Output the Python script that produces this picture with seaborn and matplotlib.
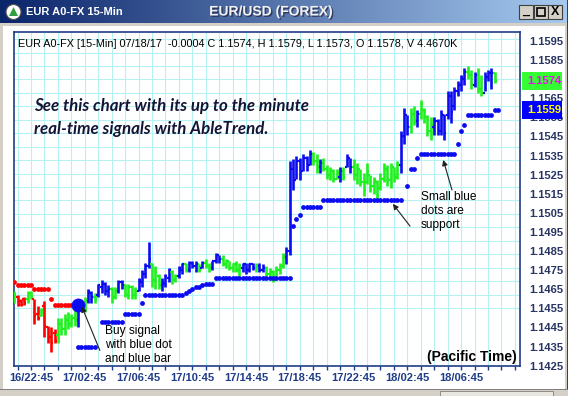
import numpy as np
import pandas as pd
import matplotlib
matplotlib.use("Agg")
import matplotlib.pyplot as plt
import matplotlib.transforms as mtrans
import matplotlib.patheffects as pe
from matplotlib.patches import Rectangle, Circle, Polygon
from matplotlib.colors import LinearSegmentedColormap
import seaborn as sns

# ---------------- data (EUR/USD 15-min bars) ----------------
bar_colors = list(
    "GRRRGGRRGR" "RRRGGGGGGB" "GGBBGBBBBG" "GBBGGGGBBB" "BGGGBBBGGB"
    "BGBBBGBGGB" "BBGGGGGGBB" "BBGBBGGGGG" "GBBBBBBBBG" "GBGGGGGBGB"
    "BGGGGGGGGG" "GGGGGBBBGG" "BGGGGBBBBB" "BBBBBGGBGG" "BBBG")
highs = [1.1464, 1.1462, 1.1460, 1.1461, 1.1464, 1.1464, 1.1460, 1.1456, 1.1455, 1.1459,
         1.1446, 1.1445, 1.1444, 1.1450, 1.1450, 1.1452, 1.1453, 1.1452, 1.1454, 1.1458,
         1.1459, 1.1461, 1.1465, 1.1464, 1.1463, 1.1468, 1.1470, 1.1469, 1.1467, 1.1466,
         1.1466, 1.1470, 1.1470, 1.1468, 1.1468, 1.1467, 1.1466, 1.1471, 1.1475, 1.1479,
         1.1490, 1.1479, 1.1477, 1.1473, 1.1471, 1.1473, 1.1476, 1.1475, 1.1473, 1.1477,
         1.1479, 1.1479, 1.1480, 1.1480, 1.1480, 1.1478, 1.1480, 1.1481, 1.1479, 1.1480,
         1.1484, 1.1483, 1.1483, 1.1481, 1.1480, 1.1479, 1.1480, 1.1479, 1.1479, 1.1479,
         1.1479, 1.1479, 1.1479, 1.1479, 1.1478, 1.1477, 1.1476, 1.1475, 1.1477, 1.1479,
         1.1484, 1.1487, 1.1532, 1.1533, 1.1535, 1.1534, 1.1536, 1.1535, 1.1538, 1.1537,
         1.1536, 1.1533, 1.1534, 1.1530, 1.1529, 1.1528, 1.1528, 1.1529, 1.1529, 1.1536,
         1.1534, 1.1533, 1.1531, 1.1528, 1.1526, 1.1531, 1.1525, 1.1524, 1.1522, 1.1526,
         1.1531, 1.1530, 1.1531, 1.1529, 1.1532, 1.1548, 1.1560, 1.1556, 1.1560, 1.1561,
         1.1559, 1.1564, 1.1560, 1.1556, 1.1555, 1.1555, 1.1554, 1.1559, 1.1557, 1.1569,
         1.1569, 1.1571, 1.1574, 1.1577, 1.1581, 1.1582, 1.1580, 1.1579, 1.1581, 1.1577,
         1.1579, 1.1580, 1.1581, 1.1579]
lows = [1.1458, 1.1456, 1.1456, 1.1457, 1.1458, 1.1460, 1.1447, 1.1449, 1.1451, 1.1440,
        1.1437, 1.1432, 1.1437, 1.1437, 1.1441, 1.1441, 1.1444, 1.1445, 1.1446, 1.1445,
        1.1454, 1.1453, 1.1458, 1.1458, 1.1458, 1.1461, 1.1463, 1.1462, 1.1461, 1.1458,
        1.1460, 1.1463, 1.1465, 1.1461, 1.1460, 1.1460, 1.1460, 1.1464, 1.1466, 1.1471,
        1.1476, 1.1466, 1.1465, 1.1465, 1.1464, 1.1466, 1.1469, 1.1468, 1.1469, 1.1471,
        1.1473, 1.1474, 1.1474, 1.1476, 1.1474, 1.1474, 1.1476, 1.1476, 1.1474, 1.1475,
        1.1479, 1.1479, 1.1477, 1.1476, 1.1475, 1.1474, 1.1474, 1.1472, 1.1474, 1.1473,
        1.1474, 1.1475, 1.1474, 1.1474, 1.1474, 1.1472, 1.1471, 1.1469, 1.1470, 1.1473,
        1.1476, 1.1478, 1.1483, 1.1517, 1.1523, 1.1522, 1.1527, 1.1527, 1.1530, 1.1530,
        1.1526, 1.1526, 1.1527, 1.1523, 1.1522, 1.1521, 1.1523, 1.1521, 1.1522, 1.1529,
        1.1526, 1.1522, 1.1520, 1.1519, 1.1514, 1.1520, 1.1516, 1.1515, 1.1511, 1.1517,
        1.1521, 1.1519, 1.1518, 1.1521, 1.1523, 1.1526, 1.1541, 1.1546, 1.1547, 1.1551,
        1.1550, 1.1554, 1.1552, 1.1545, 1.1543, 1.1546, 1.1546, 1.1546, 1.1543, 1.1554,
        1.1552, 1.1559, 1.1566, 1.1569, 1.1572, 1.1575, 1.1570, 1.1571, 1.1568, 1.1566,
        1.1569, 1.1574, 1.1570, 1.1573]
opens = [1.1460, 1.1461, 1.1459, 1.1460, 1.1460, 1.1463, 1.1460, 1.1452, 1.1451, 1.1456,
         1.1445, 1.1440, 1.1442, 1.1441, 1.1447, 1.1444, 1.1449, 1.1447, 1.1450, 1.1449,
         1.1457, 1.1455, 1.1459, 1.1463, 1.1461, 1.1462, 1.1466, 1.1468, 1.1464, 1.1465,
         1.1461, 1.1464, 1.1469, 1.1467, 1.1462, 1.1466, 1.1462, 1.1464, 1.1469, 1.1473,
         1.1477, 1.1478, 1.1470, 1.1472, 1.1467, 1.1468, 1.1471, 1.1474, 1.1470, 1.1472,
         1.1475, 1.1478, 1.1475, 1.1479, 1.1477, 1.1478, 1.1476, 1.1479, 1.1477, 1.1476,
         1.1480, 1.1483, 1.1481, 1.1478, 1.1480, 1.1476, 1.1478, 1.1475, 1.1476, 1.1478,
         1.1475, 1.1478, 1.1476, 1.1477, 1.1475, 1.1476, 1.1473, 1.1474, 1.1470, 1.1475,
         1.1477, 1.1482, 1.1485, 1.1528, 1.1522, 1.1532, 1.1527, 1.1534, 1.1530, 1.1536,
         1.1532, 1.1529, 1.1531, 1.1528, 1.1525, 1.1527, 1.1523, 1.1524, 1.1527, 1.1529,
         1.1534, 1.1529, 1.1525, 1.1528, 1.1521, 1.1521, 1.1525, 1.1519, 1.1521, 1.1518,
         1.1523, 1.1528, 1.1522, 1.1529, 1.1524, 1.1530, 1.1545, 1.1556, 1.1550, 1.1557,
         1.1553, 1.1557, 1.1559, 1.1555, 1.1548, 1.1550, 1.1553, 1.1548, 1.1556, 1.1556,
         1.1566, 1.1561, 1.1569, 1.1572, 1.1575, 1.1579, 1.1577, 1.1572, 1.1577, 1.1570,
         1.1568, 1.1576, 1.1578, 1.1578]
closes = [1.1462, 1.1457, 1.1457, 1.1458, 1.1463, 1.1461, 1.1451, 1.1450, 1.1454, 1.1446,
          1.1440, 1.1437, 1.1438, 1.1447, 1.1444, 1.1449, 1.1447, 1.1450, 1.1449, 1.1457,
          1.1455, 1.1459, 1.1464, 1.1461, 1.1460, 1.1467, 1.1468, 1.1464, 1.1465, 1.1461,
          1.1464, 1.1469, 1.1467, 1.1462, 1.1466, 1.1462, 1.1464, 1.1470, 1.1473, 1.1477,
          1.1481, 1.1470, 1.1474, 1.1467, 1.1469, 1.1472, 1.1475, 1.1470, 1.1472, 1.1476,
          1.1478, 1.1475, 1.1479, 1.1477, 1.1478, 1.1475, 1.1479, 1.1477, 1.1476, 1.1480,
          1.1483, 1.1481, 1.1478, 1.1480, 1.1476, 1.1478, 1.1475, 1.1477, 1.1478, 1.1475,
          1.1478, 1.1476, 1.1477, 1.1475, 1.1476, 1.1473, 1.1474, 1.1470, 1.1475, 1.1477,
          1.1482, 1.1485, 1.1528, 1.1522, 1.1532, 1.1527, 1.1534, 1.1530, 1.1536, 1.1532,
          1.1529, 1.1531, 1.1528, 1.1525, 1.1527, 1.1523, 1.1526, 1.1527, 1.1524, 1.1534,
          1.1529, 1.1525, 1.1528, 1.1521, 1.1517, 1.1527, 1.1519, 1.1522, 1.1514, 1.1523,
          1.1528, 1.1522, 1.1529, 1.1524, 1.1530, 1.1545, 1.1556, 1.1550, 1.1557, 1.1553,
          1.1557, 1.1562, 1.1555, 1.1548, 1.1551, 1.1553, 1.1548, 1.1556, 1.1547, 1.1566,
          1.1558, 1.1569, 1.1572, 1.1576, 1.1579, 1.1577, 1.1572, 1.1577, 1.1570, 1.1568,
          1.1576, 1.1578, 1.1578, 1.1574]

# support (blue) and resistance (red) stop dots: (first bar, last bar, level)
support_runs = [(19, 24, 1.1435), (26, 32, 1.1448), (33, 37, 1.1452), (38, 38, 1.1458),
                (39, 50, 1.1462), (51, 51, 1.1463), (52, 52, 1.1464), (53, 53, 1.1465),
                (54, 55, 1.1466), (56, 56, 1.1467), (57, 59, 1.1468), (60, 82, 1.1471),
                (83, 83, 1.1498), (84, 84, 1.1502), (85, 85, 1.1504), (86, 91, 1.1508),
                (92, 115, 1.1512), (117, 117, 1.1519), (118, 119, 1.1528), (120, 120, 1.1534),
                (121, 131, 1.1536), (132, 132, 1.1541), (133, 133, 1.1548), (134, 134, 1.1551),
                (135, 142, 1.1556), (143, 144, 1.1559)]
resist_runs = [(0, 0, 1.1469), (1, 5, 1.1467), (6, 10, 1.1465), (11, 11, 1.1460), (12, 18, 1.1457)]
buy_bar, buy_price = 19, 1.1457
volume_label = "4.4670K"
start_time = "2017-07-16 21:30"
y_tick_values = [1.1595, 1.1585, 1.1565, 1.1555, 1.1545, 1.1535, 1.1525, 1.1515, 1.1505,
                 1.1495, 1.1485, 1.1475, 1.1465, 1.1455, 1.1445, 1.1435, 1.1425]
last_price, stop_price = 1.1574, 1.1559

# ---------------- styling ----------------
sns.set_theme(style="white")
plt.rcParams["font.family"] = ["Liberation Sans", "DejaVu Sans"]

W, H = 568, 396
fig = plt.figure(figsize=(W / 100, H / 100), dpi=100, facecolor="white")

def frect(x0, y0, x1, y1, **kw):
    fig.add_artist(Rectangle((x0 / W, 1 - y1 / H), (x1 - x0) / W, (y1 - y0) / H,
                             transform=fig.transFigure, **kw))

# window frame
frect(0, 23, 568, 26, fc="#d4d0c8", ec="none")
frect(0, 23, 3, 396, fc="#d4d0c8", ec="none")
frect(565, 23, 568, 396, fc="#d4d0c8", ec="none")
frect(566.5, 0, 568, 396, fc="#404040", ec="none")
frect(0, 389, 568, 396, fc="#d4d0c8", ec="none")
frect(0, 389, 568, 390, fc="#808080", ec="none")
frect(440, 390.5, 553, 396, fc="#e8e6e0", ec="#808080", lw=0.6)

# title bar
tb = fig.add_axes([0, 1 - 23 / H, 1, 23 / H])
cmap = LinearSegmentedColormap.from_list("tb", ["#0a246a", "#a6caf0"])
tb.imshow(np.linspace(0, 1, 256)[None, :], aspect="auto", cmap=cmap, extent=[0, W, 23, 0])
tb.set_xlim(0, W); tb.set_ylim(23, 0); tb.axis("off")
tb.add_patch(Circle((13.5, 12), 7.5, fc="white", ec="#505050", lw=0.8))
tb.add_patch(Polygon([[13.5, 7], [9, 16], [18, 16]], closed=True, fc="#2e9e3e", ec="none"))
tb.text(26, 12, "EUR A0-FX 15-Min", color="white", fontsize=8, fontweight="bold", va="center")
tb.text(271, 11.5, "EUR/USD (FOREX)", color="#f2f2f2", fontsize=10, fontweight="bold",
        ha="center", va="center",
        path_effects=[pe.withSimplePatchShadow(offset=(1, -1), shadow_rgbFace="#202040", alpha=0.7)])
for bx in [519, 533.5, 548]:
    tb.add_patch(Rectangle((bx, 4.5), 14, 14, fc="#d4d0c8", ec="#404040", lw=0.8))
glyph_kw = dict(color="black", fontweight="bold", ha="center", va="center")
tb.text(526, 11, "_", fontsize=9, **glyph_kw)
tb.add_patch(Rectangle((536.5, 7.5), 8, 8, fc="none", ec="black", lw=1.2))
tb.text(555, 12, "X", fontsize=9, **glyph_kw)

# ---------------- main chart ----------------
ax = fig.add_axes([14 / W, 30 / H, 506 / W, 334.3 / H])
ax.set_facecolor("white")
ax.set_xlim(-0.06, 150.54)
ax.set_ylim(1.142484, 1.159987)

times = pd.date_range(start_time, periods=152, freq="15min")
n_bars = len(highs)
major_pos = [i for i, t in enumerate(times) if t.minute == 45 and t.hour % 4 == 2 and i < n_bars]
minor_pos = [i for i, t in enumerate(times) if t.minute == 45]
ax.set_xticks(major_pos)
ax.set_xticklabels([f"{times[i].day}/{times[i]:%H:%M}" for i in major_pos])
ax.set_xticks(minor_pos, minor=True)
grid_c = "#b6f2f2"
for p in minor_pos:
    ax.axvline(p, color=grid_c, lw=0.8, zorder=0)
gy0, gstep = 1.153966, 0.0007042
for k in range(-12, 15):
    ax.axhline(gy0 + k * gstep, color=grid_c, lw=0.8, zorder=0)

ax.yaxis.tick_right()
ax.set_yticks(y_tick_values)
ax.set_yticklabels([f"{v:.4f}" for v in y_tick_values])
ax.tick_params(axis="y", which="both", length=0, pad=6.5, labelsize=8, labelcolor="#283462")
ax.tick_params(axis="x", which="both", direction="out", length=3, width=1, color="#1f3c88",
               pad=2, labelsize=8, labelcolor="#1f3c88", bottom=True)
for lab in ax.get_xticklabels() + ax.get_yticklabels():
    lab.set_fontweight("bold")
for s in ax.spines.values():
    s.set_color("#1f3c88"); s.set_linewidth(1.2)
ax.set_xlabel(""); ax.set_ylabel("")

pal = {"R": "#ff0000", "G": "#1ef01e", "B": "#0c0cf0"}
xs = np.arange(n_bars)
cols = [pal[c] for c in bar_colors]
ax.vlines(xs, lows, highs, colors=cols, lw=1.9, zorder=3)
ax.hlines(opens, xs - 0.6, xs, colors=cols, lw=1.6, zorder=3)
ax.hlines(closes, xs, xs + 0.6, colors=cols, lw=1.6, zorder=3)

sup_x = [i for a, b, v in support_runs for i in range(a, b + 1)]
sup_y = [v for a, b, v in support_runs for i in range(a, b + 1)]
res_x = [i for a, b, v in resist_runs for i in range(a, b + 1)]
res_y = [v for a, b, v in resist_runs for i in range(a, b + 1)]
sns.scatterplot(x=sup_x, y=sup_y, ax=ax, color=pal["B"], s=12, linewidth=0, zorder=4)
sns.scatterplot(x=res_x, y=res_y, ax=ax, color=pal["R"], s=12, linewidth=0, zorder=4)
sns.scatterplot(x=[buy_bar], y=[buy_price], ax=ax, color=pal["B"], s=100, linewidth=0, zorder=5)

# texts
chg = closes[-1] - opens[-1]
ax.text(0.008, 0.962,
        f"EUR A0-FX [15-Min] 07/18/17  {chg:.4f} C {closes[-1]:.4f}, H {highs[-1]:.4f}, "
        f"L {lows[-1]:.4f}, O {opens[-1]:.4f}, V {volume_label}",
        transform=ax.transAxes, fontsize=7.8, color="black", va="center", zorder=6)
ital = dict(transform=ax.transAxes, fontsize=12.2, fontweight="bold", fontstyle="italic",
            color="#141436", va="center", family=["Lato", "DejaVu Sans"], zorder=6)
ax.text(0.0395, 0.778, "See this chart with its up to the minute", **ital)
ax.text(0.0395, 0.709, "real-time signals with AbleTrend.", **ital)

arrow = dict(arrowstyle="-|>", color="#202020", lw=0.8, mutation_scale=8, shrinkA=0, shrinkB=0)
ax.annotate("", xy=(20.1, 1.1456), xytext=(25.5, 1.1433), arrowprops=arrow, zorder=6)
ax.text(27.0, 1.14358, "Buy signal\nwith blue dot\nand blue bar", fontsize=8.6,
        va="center", ha="left", linespacing=1.22, color="black", zorder=6)
ax.annotate("", xy=(112.7, 1.15097), xytext=(117.8, 1.14981), arrowprops=arrow, zorder=6)
ax.annotate("", xy=(127.7, 1.15327), xytext=(130.3, 1.1517), arrowprops=arrow, zorder=6)
ax.text(121.1, 1.1506, "Small blue\ndots are\nsupport", fontsize=8.6,
        va="center", ha="left", linespacing=1.22, color="black", zorder=6)
ax.text(0.994, 0.027, "(Pacific Time)", transform=ax.transAxes, fontsize=10,
        fontweight="bold", ha="right", va="center", color="black", zorder=6)

# price boxes on the right scale
blend = mtrans.blended_transform_factory(ax.transAxes, ax.transData)
bh = 0.00096
ax.add_patch(Rectangle((1.004, last_price - bh / 2), 0.079, bh, transform=blend,
                       fc="#33ff33", ec="none", clip_on=False, zorder=10))
ax.text(1.0135, last_price, f"{last_price:.4f}", transform=blend, fontsize=8,
        fontweight="bold", color="#ff00ff", va="center", clip_on=False, zorder=11)
ax.add_patch(Rectangle((1.004, stop_price - bh / 2), 0.079, bh, transform=blend,
                       fc="#0000ff", ec="none", clip_on=False, zorder=10))
ax.text(1.0135, stop_price, f"{stop_price:.4f}", transform=blend, fontsize=8,
        fontweight="bold", color="#ffff00", va="center", clip_on=False, zorder=11)

fig.savefig("out.png", dpi=100, facecolor="white")
